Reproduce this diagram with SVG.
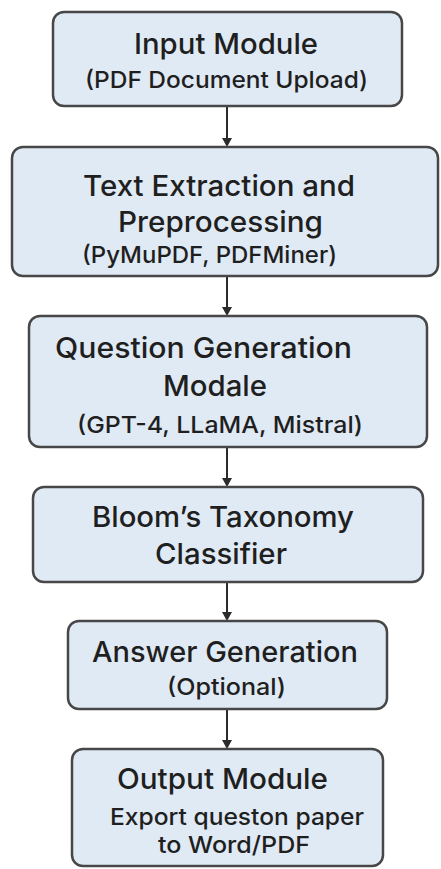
<svg xmlns="http://www.w3.org/2000/svg" width="441" height="869" viewBox="0 0 441 869">
<defs>
<style>
.box{fill:#e0eaf5;stroke:#474747;stroke-width:2.5}
.t{font-family:Inter,"Liberation Sans",sans-serif;font-weight:500;fill:#1f1f1f;text-anchor:middle}
.h{font-size:29px}
.s{font-size:23.5px}
.c{stroke:#2b2b2b;stroke-width:2;fill:none}
.a{fill:#2b2b2b}
</style>
</defs>
<rect width="441" height="869" fill="#ffffff"/>
<g id="connectors">
<line class="c" x1="227" y1="107" x2="227" y2="140"/><path class="a" d="M222,138 L232,138 L227,147 Z"/>
<line class="c" x1="227" y1="277" x2="227" y2="309"/><path class="a" d="M222,307 L232,307 L227,316 Z"/>
<line class="c" x1="227" y1="448" x2="227" y2="480"/><path class="a" d="M222,478 L232,478 L227,487 Z"/>
<line class="c" x1="227" y1="583" x2="227" y2="614"/><path class="a" d="M222,612 L232,612 L227,621 Z"/>
<line class="c" x1="227" y1="710" x2="227" y2="742"/><path class="a" d="M222,740 L232,740 L227,749 Z"/>
</g>
<g id="input-module">
<rect class="box" x="53" y="12" width="349" height="94" rx="11"/>
<text class="t h" x="226" y="54" textLength="184" lengthAdjust="spacingAndGlyphs">Input Module</text>
<text class="t s" x="226.5" y="88" textLength="283" lengthAdjust="spacingAndGlyphs">(PDF Document Upload)</text>
</g>
<g id="text-extraction">
<rect class="box" x="12" y="147" width="426" height="129" rx="11"/>
<text class="t h" x="219" y="196" textLength="272" lengthAdjust="spacingAndGlyphs">Text Extraction and</text>
<text class="t h" x="220.5" y="232" textLength="205" lengthAdjust="spacingAndGlyphs">Preprocessing</text>
<text class="t s" x="209.5" y="263" textLength="255" lengthAdjust="spacingAndGlyphs">(PyMuPDF, PDFMiner)</text>
</g>
<g id="question-generation">
<rect class="box" x="29" y="316" width="398" height="131" rx="11"/>
<text class="t h" x="203.5" y="358" textLength="297" lengthAdjust="spacingAndGlyphs">Question Generation</text>
<text class="t h" x="215" y="396" textLength="104" lengthAdjust="spacingAndGlyphs">Modale</text>
<text class="t s" x="220" y="433" textLength="286" lengthAdjust="spacingAndGlyphs">(GPT-4, LLaMA, Mistral)</text>
</g>
<g id="blooms-classifier">
<rect class="box" x="33" y="487" width="390" height="95" rx="11"/>
<text class="t h" x="223" y="527" textLength="262" lengthAdjust="spacingAndGlyphs">Bloom’s Taxonomy</text>
<text class="t h" x="221" y="564" textLength="132" lengthAdjust="spacingAndGlyphs">Classifier</text>
</g>
<g id="answer-generation">
<rect class="box" x="68" y="621" width="319" height="88" rx="11"/>
<text class="t h" x="225" y="662" textLength="266" lengthAdjust="spacingAndGlyphs">Answer Generation</text>
<text class="t s" x="226.5" y="695" textLength="119" lengthAdjust="spacingAndGlyphs">(Optional)</text>
</g>
<g id="output-module">
<rect class="box" x="72" y="749" width="311" height="117" rx="11"/>
<text class="t h" x="222.5" y="789" textLength="211" lengthAdjust="spacingAndGlyphs">Output Module</text>
<text class="t s" x="237" y="825" textLength="254" lengthAdjust="spacingAndGlyphs">Export queston paper</text>
<text class="t s" x="234" y="853" textLength="152" lengthAdjust="spacingAndGlyphs">to Word/PDF</text>
</g>
</svg>
